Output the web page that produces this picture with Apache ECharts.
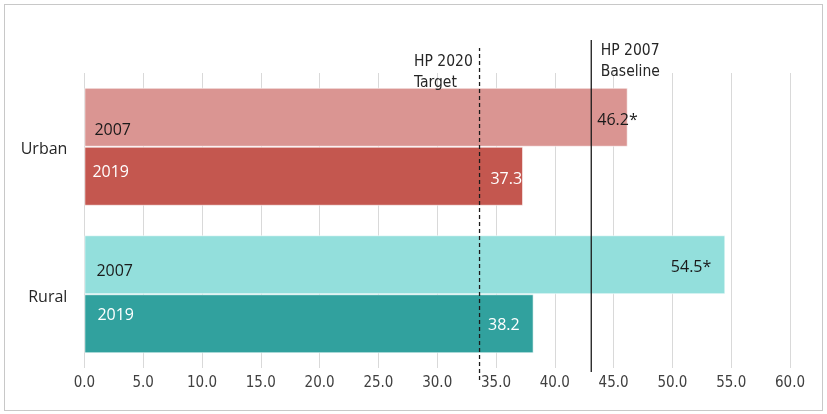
<!DOCTYPE html>
<html>
<head>
<meta charset="utf-8">
<script src="https://cdn.jsdelivr.net/npm/echarts@6/dist/echarts.min.js"></script>
<style>
  html, body { margin: 0; padding: 0; background: #fff; }
  #chart { width: 827px; height: 414px; position: relative; }
  #frame {
    position: absolute; left: 4px; top: 4px; width: 817px; height: 405px;
    border: 1px solid #c8c8c8; pointer-events: none;
  }
</style>
</head>
<body>
<div id="chart"></div>
<div id="frame"></div>
<script>
// data
const places = ['Urban', 'Rural']
const years = ['2007', '2019']
const values2007 = [46.2, 54.5]
const values2019 = [37.3, 38.2]
const labels2007 = ['46.2*', '54.5*']
const labels2019 = ['37.3', '38.2']
const baseline2007 = 43.1
const target2020 = 33.6
const xTicks = { min: 0, max: 60, step: 5 }

// colours per bar (light = 2007, dark = 2019)
const colors2007 = ['#da9592', '#93dfdc']
const colors2019 = ['#c4574f', '#31a19e']

// Excel puts the inner labels a bit off centre, keep those nudges here
const yearShift2007 = [[0, 13], [2, 7]]
const yearShift2019 = [[0, -4], [5, -8]]
const valueShift2007 = [[15, 3], [-9, 3]]
const valueShift2019 = [[4, 3], [-9, 2]]

const barFont = '"Open Sans", "DejaVu Sans", sans-serif'
const narrowFont = '"DejaVu Sans Condensed", "Liberation Sans", sans-serif'

const chart = echarts.init(document.getElementById('chart'))

const gridPos = { left: 84.4, right: 37 }

function barItems(values, colors, shifts, textColor) {
  return values.map((v, i) => ({
    value: v,
    itemStyle: { color: colors[i] },
    label: { offset: shifts[i], color: textColor }
  }))
}

function valueItems(values, texts, shifts, textColor) {
  return values.map((v, i) => ({
    value: v,
    label: { formatter: texts[i], offset: shifts[i], color: textColor }
  }))
}

function refLine(x, gridIndex, text, type, labelPos) {
  return {
    type: 'line',
    xAxisIndex: gridIndex,
    yAxisIndex: gridIndex + 1,
    data: [
      { value: [x, 0] },
      {
        value: [x, 1],
        label: {
          show: true,
          formatter: text,
          position: labelPos,
          align: 'left',
          verticalAlign: 'top',
          fontFamily: narrowFont,
          fontSize: 15.5,
          lineHeight: 21,
          color: '#262626'
        }
      }
    ],
    symbol: 'circle',
    symbolSize: 1,
    itemStyle: { color: 'rgba(0,0,0,0)' },
    lineStyle: { color: '#1a1a1a', width: 1.3, type: type },
    silent: true,
    z: 5
  }
}

const barCommon = {
  type: 'bar',
  barGap: '0%',
  barCategoryGap: '20%'
}

const option = {
  animation: false,
  grid: [
    { left: gridPos.left, right: gridPos.right, top: 73, bottom: 46 },
    { left: gridPos.left, right: gridPos.right, top: 40, bottom: 42 },
    { left: gridPos.left, right: gridPos.right, top: 48, bottom: 34 }
  ],
  xAxis: [
    {
      type: 'value',
      gridIndex: 0,
      min: xTicks.min,
      max: xTicks.max,
      interval: xTicks.step,
      axisLine: { show: false },
      axisTick: { show: false },
      splitLine: { lineStyle: { color: '#d9d9d9', width: 1 } },
      axisLabel: {
        formatter: v => v.toFixed(1),
        color: '#404040',
        fontFamily: narrowFont,
        fontSize: 15,
        margin: 8
      }
    },
    { type: 'value', gridIndex: 1, min: xTicks.min, max: xTicks.max, show: false },
    { type: 'value', gridIndex: 2, min: xTicks.min, max: xTicks.max, show: false }
  ],
  yAxis: [
    {
      type: 'category',
      gridIndex: 0,
      data: places,
      inverse: true,
      axisLine: { show: false },
      axisTick: { show: false },
      axisLabel: {
        formatter: v => '{p|' + v + '}',
        margin: 17,
        rich: {
          p: {
            color: '#262626',
            fontFamily: barFont,
            fontSize: 16,
            padding: [6, 0, 0, 0]
          }
        }
      }
    },
    { type: 'category', gridIndex: 0, data: places, inverse: true, show: false },
    { type: 'value', gridIndex: 1, min: 0, max: 1, show: false },
    { type: 'value', gridIndex: 2, min: 0, max: 1, show: false }
  ],
  series: [
    {
      ...barCommon,
      name: years[0],
      yAxisIndex: 0,
      data: barItems(values2007, colors2007, yearShift2007, '#1a1a1a'),
      itemStyle: { borderColor: 'rgba(255,255,255,0.6)', borderWidth: 1 },
      label: {
        show: true,
        position: 'insideLeft',
        distance: 10,
        formatter: years[0],
        fontFamily: barFont,
        fontSize: 16
      }
    },
    {
      ...barCommon,
      name: years[1],
      yAxisIndex: 0,
      data: barItems(values2019, colors2019, yearShift2019, '#ffffff'),
      itemStyle: { borderColor: 'rgba(255,255,255,0.6)', borderWidth: 1 },
      label: {
        show: true,
        position: 'insideLeft',
        distance: 8,
        formatter: years[1],
        fontFamily: barFont,
        fontSize: 16
      }
    },
    {
      ...barCommon,
      yAxisIndex: 1,
      data: valueItems(values2007, labels2007, valueShift2007, '#1a1a1a'),
      itemStyle: { color: 'rgba(0,0,0,0)' },
      label: { show: true, position: 'insideRight', distance: 5, fontFamily: barFont, fontSize: 16 },
      z: 6
    },
    {
      ...barCommon,
      yAxisIndex: 1,
      data: valueItems(values2019, labels2019, valueShift2019, '#ffffff'),
      itemStyle: { color: 'rgba(0,0,0,0)' },
      label: { show: true, position: 'insideRight', distance: 5, fontFamily: barFont, fontSize: 16 },
      z: 6
    },
    refLine(baseline2007, 1, 'HP 2007\nBaseline', 'solid', [10, 1]),
    refLine(target2020, 2, 'HP 2020\nTarget', [4, 3], [-65, 4])
  ]
}

chart.setOption(option)
</script>
</body>
</html>
